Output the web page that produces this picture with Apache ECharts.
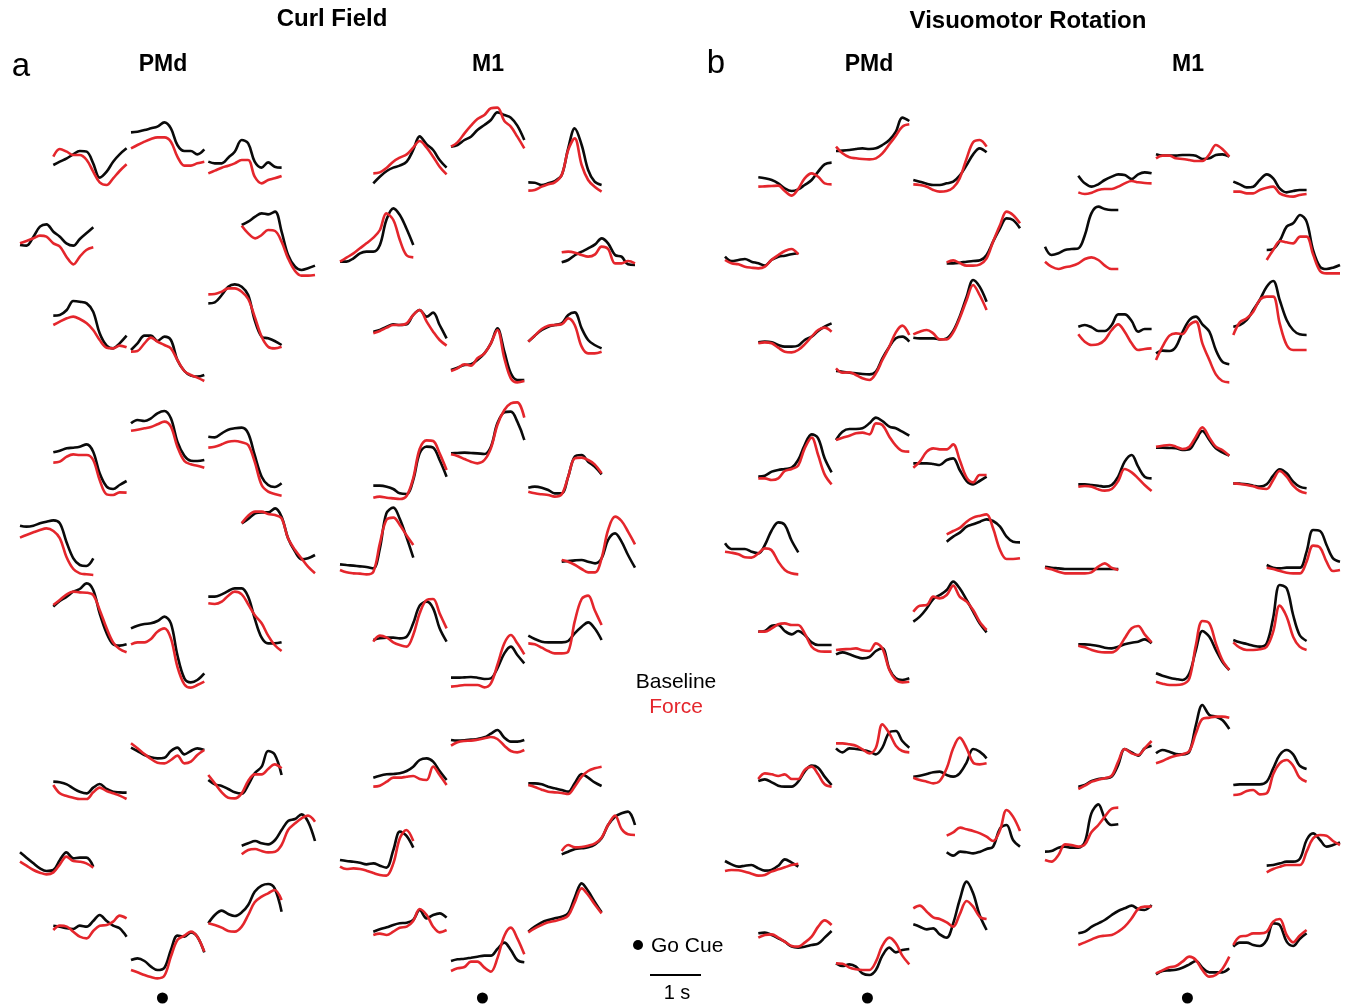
<!DOCTYPE html>
<html>
<head>
<meta charset="utf-8">
<script src="https://cdn.jsdelivr.net/npm/echarts@6/dist/echarts.min.js"></script>
<style>
html,body{margin:0;padding:0;background:#fff;}
#chart{width:1345px;height:1008px;}
</style>
</head>
<body>
<div id="chart"></div>
<script>
// Time of each sample relative to the go cue (s)
const timeS = [-0.63,-0.5,-0.36,-0.23,-0.1,0.04,0.17,0.3,0.44,0.57,0.7,0.84];
// Panel / neuron labels
const panelNames = ['Curl Field PMd','Curl Field M1','Visuomotor Rotation PMd','Visuomotor Rotation M1'];
const directionNames = ['135°','90°','45°','180°','0°','225°','270°','315°'];
// Firing-rate traces (arbitrary units), 8 reach directions per neuron, order as directionNames

// ---- Curl Field, PMd ----
const cfPMd1Base = [
[790,800,810,822,832,830,795,752,770,800,822,840],
[888,890,895,900,905,918,900,850,832,832,822,837],
[800,795,795,812,830,865,855,800,782,798,785,782],
[550,548,575,605,612,590,575,555,548,568,585,603],
[610,620,635,645,642,650,590,520,485,475,480,488],
[338,340,355,382,380,375,350,285,248,240,255,278],
[235,255,278,278,262,275,265,205,172,158,155,160],
[375,378,400,425,432,425,400,325,275,270,262,250]];
const cfPMd1Force = [
[815,838,830,820,820,805,770,738,730,750,772,792],
[840,850,860,868,873,873,860,815,788,788,795,800],
[765,773,782,788,795,805,805,755,735,745,750,757],
[555,562,570,578,575,555,545,515,492,515,535,543],
[608,585,570,580,595,592,560,510,472,458,458,460],
[310,320,330,335,328,315,295,265,242,240,248,243],
[230,232,255,272,260,250,240,205,172,160,152,142],
[402,403,410,420,420,410,388,335,275,245,240,245]];
const cfPMd2Base = [
[828,833,840,842,845,852,830,765,725,718,730,742],
[915,925,922,930,945,952,930,860,818,803,802,805],
[875,873,885,896,900,902,885,820,755,730,724,735],
[608,605,608,615,620,624,615,560,510,490,487,510],
[615,628,645,648,648,660,635,570,530,507,510,520],
[365,382,395,410,418,435,415,345,285,252,248,252],
[300,308,313,315,322,335,315,220,150,138,145,165],
[395,395,402,412,420,420,395,330,272,255,255,258]];
const cfPMd2Force = [
[797,800,815,822,820,820,805,745,702,700,708,707],
[893,896,900,904,912,920,905,845,802,792,788,782],
[842,845,852,860,862,858,850,800,730,710,703,698],
[572,580,588,595,600,592,570,515,478,465,462,460],
[615,638,650,650,643,640,630,570,535,510,485,465],
[370,385,402,410,408,407,400,355,300,258,238,228],
[252,258,258,268,290,300,270,185,132,122,130,140],
[375,373,380,398,410,402,372,340,315,278,250,232]];
const cfPMd3Base = [
[800,798,792,780,770,765,782,793,778,770,768,767],
[902,892,880,873,870,872,892,902,882,892,900,895],
[805,792,787,778,768,764,790,825,845,892,882,820],
[588,572,555,540,532,535,565,588,570,572,572,545],
[608,615,622,615,612,625,655,682,688,702,680,622],
[368,365,360,358,368,365,382,400,382,368,360,335],
[265,270,262,245,235,242,295,338,335,348,335,288],
[375,400,413,403,397,408,430,470,488,493,480,410]];
const cfPMd3Force = [
[790,765,757,752,748,748,768,782,772,765,758,748],
[915,900,883,868,857,855,865,878,855,860,880,895],
[820,795,768,752,750,765,802,822,822,838,852,840],
[560,548,535,527,522,528,552,575,562,560,555,542],
[582,595,598,592,588,590,610,655,675,690,698,680],
[355,368,365,350,335,330,352,368,370,380,398,390],
[235,228,220,214,210,218,275,325,338,350,335,290],
[375,370,362,352,350,365,400,438,455,465,475,445]];

// ---- Curl Field, M1 ----
const cfM11Base = [
[735,755,772,782,788,800,835,876,852,835,805,782],
[845,850,865,875,895,910,925,948,940,932,908,865],
[738,737,730,735,742,760,840,900,850,775,740,730],
[500,500,510,525,530,530,550,625,660,640,600,550],
[498,505,520,530,540,552,570,555,520,515,492,490],
[290,295,305,312,310,312,340,355,335,347,310,270],
[175,182,190,192,205,225,255,300,230,165,145,145],
[260,278,295,305,310,315,340,348,300,265,250,240]];
const cfM11Force = [
[765,768,782,800,812,822,842,862,842,815,785,762],
[845,858,885,908,928,940,960,962,922,905,875,840],
[713,715,725,732,738,760,835,870,790,745,725,710],
[500,512,525,540,555,572,595,645,625,565,520,513],
[528,530,527,520,515,522,545,538,495,495,502,495],
[285,292,302,310,310,315,340,355,320,290,265,248],
[172,180,192,188,210,225,255,295,210,150,138,142],
[260,278,298,308,310,312,330,310,245,225,225,230]];
const cfM12Base = [
[728,728,725,718,705,703,745,825,845,842,805,755],
[825,826,827,826,825,823,845,915,948,950,920,865],
[722,725,722,715,705,705,755,815,820,800,785,762],
[492,490,488,486,484,480,540,645,662,628,575,512],
[500,502,504,505,500,495,510,565,585,560,520,482],
[265,270,272,272,270,275,315,368,380,360,300,260],
[152,152,153,154,152,148,150,180,225,245,220,195],
[278,268,260,258,258,258,262,285,305,318,300,265]];
const cfM12Force = [
[692,695,692,690,688,698,750,838,864,862,825,775],
[822,817,808,800,795,805,840,910,955,975,978,932],
[710,705,702,700,695,702,755,810,812,805,792,765],
[475,468,465,464,462,470,555,625,632,610,580,550],
[505,500,490,478,468,468,510,595,635,622,590,552],
[260,278,272,258,250,245,280,345,385,388,345,300],
[125,127,130,130,130,123,135,190,255,280,255,222],
[255,252,242,232,225,225,230,320,388,398,355,310]];
const cfM13Base = [
[812,818,822,823,825,832,845,865,870,860,832,805],
[925,923,924,926,928,933,944,955,932,920,920,925],
[795,795,792,785,780,775,770,795,823,812,798,787],
[565,562,560,557,552,555,548,542,595,650,638,602],
[582,590,598,600,603,612,630,670,695,705,710,670],
[350,357,363,370,375,377,385,415,390,400,405,392],
[262,267,269,272,275,278,278,298,317,295,265,258],
[350,365,378,385,390,395,405,452,495,472,440,408]];
const cfM13Force = [
[785,788,800,812,812,815,817,808,805,845,820,790],
[908,918,922,923,926,930,934,928,908,892,888,895],
[790,784,776,770,768,766,763,785,815,832,840,845],
[545,538,540,538,533,526,520,518,555,630,655,622],
[592,610,603,604,608,615,632,670,698,658,642,640],
[340,344,340,350,362,365,382,418,400,365,348,355],
[232,240,244,260,260,242,230,270,338,362,330,282],
[348,360,370,378,382,388,398,438,480,460,432,405]];

// ---- Visuomotor Rotation, PMd ----
const vrPMd1Base = [
[753,750,745,735,720,712,717,730,745,770,792,797],
[832,833,835,838,840,838,840,850,865,890,932,922],
[745,740,734,730,730,735,740,758,790,822,840,828],
[515,502,505,508,500,495,488,505,515,518,522,525],
[495,495,497,500,502,504,520,560,600,630,625,600],
[258,260,258,250,245,245,248,265,275,292,305,315],
[172,170,167,165,163,162,170,210,245,270,275,260],
[272,270,270,270,267,270,292,335,395,445,425,380]];
const vrPMd1Force = [
[725,726,727,728,712,698,718,750,765,755,735,732],
[845,825,813,810,808,807,810,825,852,878,905,912],
[732,730,725,715,710,712,722,750,810,858,865,845],
[505,495,492,485,482,480,485,505,520,532,538,522],
[498,504,495,488,488,492,510,560,610,650,640,615],
[255,258,255,242,230,228,235,252,275,295,302,290],
[180,167,168,160,150,145,165,205,245,288,308,280],
[282,290,295,285,267,267,288,330,385,430,400,355]];
const vrPMd2Base = [
[755,758,770,775,778,782,805,850,882,870,810,768],
[865,890,898,898,900,915,932,922,905,900,890,878],
[795,795,795,793,790,805,810,775,742,732,742,755],
[555,538,538,538,530,525,550,592,618,610,565,528],
[560,575,588,605,612,620,627,622,605,575,560,558],
[290,292,308,310,292,282,292,280,258,250,250,250],
[222,228,222,215,210,214,232,240,178,150,145,150],
[320,335,360,388,400,415,440,420,385,350,315,288]];
const vrPMd2Force = [
[750,750,745,750,772,778,788,840,872,820,762,732],
[865,872,878,885,887,882,915,910,875,848,832,830],
[782,800,830,840,837,837,852,805,752,738,760,760],
[530,527,522,513,512,525,540,535,500,475,465,462],
[582,592,602,620,632,638,642,600,535,508,508,510],
[290,290,300,312,315,310,310,285,245,232,230,230],
[235,237,238,240,234,232,255,240,175,145,138,140],
[350,368,370,395,390,400,428,395,380,355,320,295]];
const vrPMd3Base = [
[802,807,798,788,785,785,800,830,848,842,815,790],
[900,888,900,898,895,890,882,902,948,952,922,902],
[815,818,823,828,830,820,815,825,858,898,890,870],
[562,552,545,548,550,540,533,535,548,567,558,545],
[588,578,590,588,585,590,598,605,660,670,625,605],
[345,347,340,330,320,305,302,305,310,314,332,352],
[255,247,252,245,225,220,235,278,302,288,295,298],
[372,365,357,360,342,332,375,445,500,465,400,355]];
const vrPMd3Force = [
[808,825,822,817,822,808,808,835,845,822,792,785],
[915,915,912,908,897,885,902,972,945,908,892,888],
[812,805,800,795,802,840,900,932,900,857,852,855],
[532,535,534,530,524,518,520,530,537,543,550,554],
[638,648,662,657,652,645,635,622,655,715,695,652],
[332,340,342,332,320,307,305,317,335,365,384,370],
[255,254,242,237,235,235,260,308,332,315,278,252],
[420,428,410,393,388,378,365,402,442,425,395,388]];

// ---- Visuomotor Rotation, M1 ----
const vrM11Base = [
[758,735,725,732,745,755,762,760,748,762,768,765],
[822,818,818,818,820,820,818,808,810,820,822,815],
[740,732,723,725,745,762,750,720,708,712,715,715],
[545,520,525,535,538,540,580,645,665,658,655,655],
[535,538,565,605,615,640,620,535,485,478,482,490],
[305,310,303,292,292,310,342,342,322,290,298,298],
[225,233,232,245,288,325,335,312,290,235,200,192],
[305,310,325,355,385,425,442,385,325,295,282,280]];
const vrM11Force = [
[708,703,707,715,718,718,725,735,742,738,736,735],
[810,818,818,810,808,805,802,802,822,850,838,815],
[710,710,705,705,715,722,725,705,697,695,700,703],
[500,485,478,483,487,495,508,513,505,488,478,478],
[505,535,562,558,555,575,575,522,472,465,465,465],
[282,260,250,252,265,295,312,290,255,235,238,240],
[205,245,278,285,283,310,320,255,205,162,142,138],
[280,318,330,350,385,395,395,315,250,235,235,235]];
const vrM12Base = [
[732,732,730,728,725,730,755,800,820,785,755,750],
[842,842,841,840,835,837,865,892,865,840,828,818],
[735,734,732,728,725,732,758,777,765,740,725,720],
[485,482,480,478,478,478,478,478,478,478,478,478],
[490,482,480,482,482,482,530,595,592,550,510,500],
[252,252,250,247,242,240,245,252,257,260,267,255],
[165,158,152,148,145,165,235,292,275,235,200,175],
[265,258,253,248,245,255,332,430,420,340,280,262]];
const vrM12Force = [
[725,727,725,717,713,718,742,778,768,750,730,712],
[845,848,850,845,838,845,875,903,872,845,835,818],
[735,733,730,726,720,718,745,772,755,728,712,705],
[482,477,470,465,465,465,465,468,485,495,482,475],
[482,478,472,467,465,465,500,548,542,500,472,475],
[248,243,235,230,228,228,240,270,300,307,282,258],
[140,134,130,130,132,150,250,322,315,255,205,175],
[258,242,235,235,237,245,290,368,335,275,245,235]];
const vrM13Base = [
[785,790,802,808,810,815,850,898,888,878,900,908],
[885,895,890,883,882,890,970,1030,1000,995,985,958],
[790,792,792,792,792,800,840,880,895,882,848,838],
[590,592,602,605,602,602,620,705,732,690,670,672],
[548,550,555,560,560,570,625,645,625,605,610,618],
[345,350,365,375,385,400,412,420,428,418,415,430],
[222,232,234,236,242,252,262,242,228,228,228,240],
[305,317,317,310,307,325,375,370,320,307,328,345]];
const vrM13Force = [
[778,788,800,806,810,818,860,898,885,880,900,922],
[855,862,872,878,882,892,945,988,992,995,995,992],
[760,762,772,775,762,765,822,855,865,848,812,800],
[565,560,580,612,610,605,612,648,670,695,718,722],
[528,538,545,550,550,550,590,630,640,638,622,610],
[310,318,327,335,338,340,350,365,390,418,425,425],
[225,234,243,247,260,275,265,235,215,220,238,275],
[310,335,338,345,345,350,380,388,340,318,338,355]];

const traces = [
  [[cfPMd1Base,cfPMd1Force],[cfPMd2Base,cfPMd2Force],[cfPMd3Base,cfPMd3Force]],
  [[cfM11Base,cfM11Force],[cfM12Base,cfM12Force],[cfM13Base,cfM13Force]],
  [[vrPMd1Base,vrPMd1Force],[vrPMd2Base,vrPMd2Force],[vrPMd3Base,vrPMd3Force]],
  [[vrM11Base,vrM11Force],[vrM12Base,vrM12Force],[vrM13Base,vrM13Force]]
];

// ---- layout ----
const panelLeft = [15, 335, 720, 1040];
const blockTop = [95, 395, 715];
const blockH = [295, 300, 290];
const colOffset = [5, 38.3, 116, 193.3, 226.7]; // far-left, left, middle, right, far-right
const cellCol = [1, 2, 3, 0, 4, 1, 2, 3];
const cellW = 73.3;
const RED = '#e4262c';
const BLACK = '#0a0a0a';
const FONT = '"Liberation Sans", Arial, Helvetica, sans-serif';

const grid = [], xAxis = [], yAxis = [], series = [];
traces.forEach((panel, pi) => {
  panel.forEach((pair, ni) => {
    const g0 = grid.length;
    for (let c = 0; c < 5; c++) {
      const gi = grid.length;
      grid.push({left: panelLeft[pi] + colOffset[c], top: blockTop[ni], width: cellW, height: blockH[ni]});
      xAxis.push({type: 'value', gridIndex: gi, min: timeS[0], max: timeS[timeS.length - 1], show: false});
      yAxis.push({type: 'value', gridIndex: gi, min: 1000 - 3 * blockH[ni], max: 1000, show: false});
    }
    for (let k = 0; k < 8; k++) {
      const gi = g0 + cellCol[k];
      [[pair[0], BLACK, 'Baseline'], [pair[1], RED, 'Force']].forEach(([arr, col, nm]) => {
        series.push({
          type: 'line', name: nm, xAxisIndex: gi, yAxisIndex: gi,
          data: arr[k].map((v, i) => [timeS[i], v]),
          smooth: 0.35, symbol: 'none', clip: false, silent: true,
          lineStyle: {color: col, width: 2.6}
        });
      });
    }
    if (ni === 2) {
      const gi = g0 + 2;
      series.push({
        type: 'scatter', xAxisIndex: gi, yAxisIndex: gi, clip: false, silent: true,
        data: [[0, 1000 - 3 * blockH[ni]]], symbolSize: 11, symbolOffset: [0, -7],
        itemStyle: {color: '#000', opacity: 1}
      });
    }
  });
});

const txt = (x, y, s, size, weight, color, align) => ({
  type: 'text', x: x, y: y, silent: true,
  style: {text: s, font: (weight || 'normal') + ' ' + size + 'px ' + FONT, fill: color || '#000',
          textAlign: align || 'center', textVerticalAlign: 'middle'}
});

const graphic = [
  txt(332, 19, 'Curl Field', 24, 'bold'),
  txt(1028, 21, 'Visuomotor Rotation', 24, 'bold'),
  txt(21, 67, 'a', 33, 'normal', '#000', 'center'),
  txt(716, 64, 'b', 33, 'normal', '#000', 'center'),
  txt(163, 65, 'PMd', 23, 'bold'),
  txt(488, 65, 'M1', 23, 'bold'),
  txt(869, 65, 'PMd', 23, 'bold'),
  txt(1188, 65, 'M1', 23, 'bold'),
  txt(676, 682, 'Baseline', 21, 'normal', '#000'),
  txt(676, 707, 'Force', 21, 'normal', RED),
  {type: 'circle', shape: {cx: 638, cy: 945, r: 5}, style: {fill: '#000'}, silent: true},
  txt(651, 946, 'Go Cue', 21, 'normal', '#000', 'left'),
  {type: 'line', shape: {x1: 650, y1: 975, x2: 701, y2: 975}, style: {stroke: '#000', lineWidth: 2}, silent: true},
  txt(677, 993, '1 s', 20, 'normal', '#000')
];

const chart = echarts.init(document.getElementById('chart'), null, {renderer: 'canvas'});
chart.setOption({
  animation: false,
  backgroundColor: '#fff',
  grid: grid, xAxis: xAxis, yAxis: yAxis, series: series, graphic: graphic
});
</script>
</body>
</html>
